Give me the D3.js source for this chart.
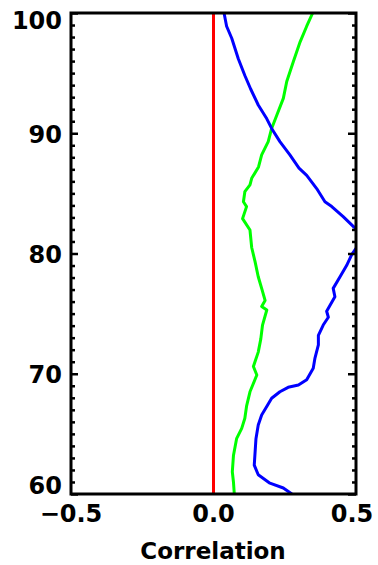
<!DOCTYPE html>
<html><head><meta charset="utf-8">
<script src="https://cdn.jsdelivr.net/npm/d3@7"></script>
<style>
html,body{margin:0;padding:0;background:#fff;}
svg text{font-family:"DejaVu Sans",sans-serif;fill:#000;font-weight:bold;}
</style></head>
<body><svg id="chart" width="378" height="565"></svg>
<script>
// ---- data ----
const xTicks = [-0.5, 0.0, 0.5];
const xTickLabels = ["\u22120.5", "0.0", "0.5"];
const yTicks = [60, 70, 80, 90, 100];
const yTickLabels = ["60", "70", "80", "90", "100"];
const xTitle = "Correlation";

const blueHeight = [100.0, 98.9, 97.9, 96.2, 94.8, 93.7, 92.35, 91.2, 90.4, 89.3, 88.2, 87.1, 86.5, 85.4, 84.3, 83.9, 83.06, 82.2, 81.5, 80.6, 79.9, 79.0, 78.07, 77.1, 76.4, 75.7, 75.2, 74.7, 74.05, 73.2, 72.4, 71.3, 70.45, 69.5, 69.06, 68.87, 68.5, 67.96, 67.4, 66.57, 65.74, 64.6, 63.5, 62.4, 61.6, 60.9, 60.5, 60.0];
const blueCorr = [0.037, 0.046, 0.064, 0.087, 0.110, 0.130, 0.157, 0.187, 0.204, 0.233, 0.268, 0.300, 0.327, 0.362, 0.391, 0.415, 0.455, 0.493, 0.530, 0.505, 0.485, 0.467, 0.444, 0.420, 0.426, 0.409, 0.397, 0.403, 0.385, 0.368, 0.368, 0.356, 0.350, 0.327, 0.298, 0.262, 0.233, 0.204, 0.190, 0.169, 0.157, 0.149, 0.146, 0.143, 0.157, 0.198, 0.245, 0.275];

const greenHeight = [100.0, 98.9, 97.6, 95.95, 94.3, 92.9, 91.5, 90.4, 89.3, 88.2, 87.2, 86.25, 85.7, 85.14, 84.3, 83.9, 82.9, 81.95, 80.5, 79.3, 78.07, 77.1, 76.1, 75.6, 75.3, 74.05, 72.9, 71.8, 70.6, 69.9, 68.5, 67.3, 66.3, 65.46, 64.6, 63.2, 61.85, 61.0, 60.0];
const greenCorr = [0.348, 0.327, 0.304, 0.280, 0.257, 0.245, 0.222, 0.204, 0.192, 0.169, 0.158, 0.134, 0.128, 0.110, 0.105, 0.116, 0.102, 0.128, 0.134, 0.146, 0.157, 0.169, 0.181, 0.169, 0.187, 0.172, 0.166, 0.157, 0.140, 0.152, 0.128, 0.116, 0.110, 0.099, 0.081, 0.070, 0.066, 0.070, 0.073];

const redHeight = [60, 100];
const redCorr = [0, 0];

// ---- layout ----
const pLeft = 71, pRight = 356, pTop = 13, pBottom = 494;
const x = d3.scaleLinear().domain([-0.5, 0.5]).range([pLeft, pRight]);
const y = d3.scaleLinear().domain([60, 100]).range([pBottom, pTop]);

const svg = d3.select("#chart");

svg.append("clipPath").attr("id", "plotclip")
  .append("rect").attr("x", pLeft).attr("y", pTop).attr("width", pRight - pLeft).attr("height", pBottom - pTop);

const line = d3.line().x(d => x(d[1])).y(d => y(d[0]));
const plot = svg.append("g").attr("clip-path", "url(#plotclip)");

function series(h, c, color) {
  plot.append("path")
    .datum(h.map((v, i) => [v, c[i]]))
    .attr("d", line)
    .attr("fill", "none")
    .attr("stroke", color)
    .attr("stroke-width", 3)
    .attr("stroke-linejoin", "round");
}
series(redHeight, redCorr, "#ff0000");
series(greenHeight, greenCorr, "#00ff00");
series(blueHeight, blueCorr, "#0000ff");

// ---- axes (IDL style: ticks inside) ----
const minorY = d3.range(61, 100).filter(v => v % 10 !== 0);

const yLeft = d3.axisRight(y).tickValues(yTicks).tickSize(7).tickFormat("");
const yLeftMinor = d3.axisRight(y).tickValues(minorY).tickSize(4).tickFormat("");
const yRight = d3.axisLeft(y).tickValues(yTicks).tickSize(8).tickFormat("");
const yRightMinor = d3.axisLeft(y).tickValues(minorY).tickSize(4).tickFormat("");

function styleAxis(g) {
  g.select(".domain").remove();
  g.selectAll("line").attr("stroke", "#000").attr("stroke-width", 2.5);
}
svg.append("g").attr("transform", `translate(${pLeft},0)`).call(yLeft).call(styleAxis);
svg.append("g").attr("transform", `translate(${pLeft},0)`).call(yLeftMinor).call(styleAxis);
svg.append("g").attr("transform", `translate(${pRight},0)`).call(yRight).call(styleAxis);
svg.append("g").attr("transform", `translate(${pRight},0)`).call(yRightMinor).call(styleAxis);

// frame
svg.append("rect")
  .attr("x", pLeft).attr("y", pTop).attr("width", pRight - pLeft).attr("height", pBottom - pTop)
  .attr("fill", "none").attr("stroke", "#000").attr("stroke-width", 3);

// y tick labels
const yOffsets = {60: -8, 100: 8};
svg.append("g").selectAll("text").data(yTicks).join("text")
  .attr("x", 62)
  .attr("y", d => y(d) + (yOffsets[d] || 1))
  .attr("dy", "0.35em")
  .attr("text-anchor", "end")
  .attr("font-size", 24)
  .text((d, i) => yTickLabels[i]);

// x tick labels
svg.append("g").selectAll("text").data(xTicks).join("text")
  .attr("x", (d, i) => x(d) + (i === 2 ? -4 : 0))
  .attr("y", 514)
  .attr("dy", "0.35em")
  .attr("text-anchor", "middle")
  .attr("font-size", 24)
  .text((d, i) => xTickLabels[i]);

svg.append("text")
  .attr("x", 213).attr("y", 551).attr("dy", "0.35em")
  .attr("text-anchor", "middle")
  .attr("font-size", 23)
  .text(xTitle);
</script></body></html>
